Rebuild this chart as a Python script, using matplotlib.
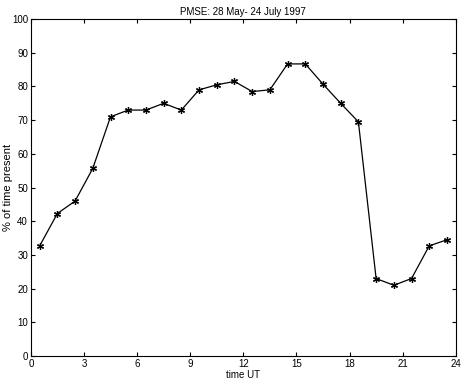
import numpy as np
import matplotlib
matplotlib.use('Agg')
import matplotlib.pyplot as plt

plt.rcParams['font.family'] = ['Liberation Sans', 'DejaVu Sans']

# hourly bins (UT) and percentage of time PMSE present
hours = np.arange(0.5, 24, 1.0)
percent = [32.7, 42.3, 46.0, 55.7, 71.0, 73.0, 73.0, 75.0, 73.0, 79.0, 80.5, 81.5,
           78.5, 79.0, 86.7, 86.7, 80.7, 75.0, 69.5, 23.0, 21.0, 23.0, 32.7, 34.5]

fig = plt.figure(figsize=(4.67, 3.82), dpi=100)
ax = fig.add_axes([0.066, 0.068, 0.910, 0.882])
ax.plot(hours, percent, 'k-', marker=(6, 2, 0), markersize=5, linewidth=0.9, markeredgewidth=0.9)

ax.set_xlim(0, 24)
ax.set_ylim(0, 100)
ax.set_xticks(np.arange(0, 25, 3))
ax.set_yticks(np.arange(0, 101, 10))
ax.tick_params(direction='in', top=True, right=True, labelsize=7, length=3, pad=2)
ax.set_xlabel('time UT', fontsize=7, labelpad=1)
ax.set_ylabel('% of time present', fontsize=8, va='top')
ax.yaxis.set_label_coords(-0.066, 0.5)
ax.set_title('PMSE: 28 May- 24 July 1997', fontsize=7, pad=3)

plt.savefig('out.png', dpi=100)
